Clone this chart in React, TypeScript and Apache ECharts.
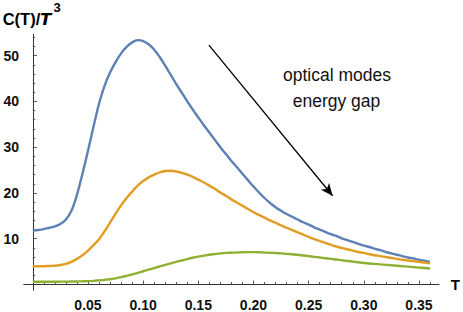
import React, { useEffect, useRef } from "react";
import * as echarts from "echarts";

// Temperature samples (x values), step 0.005
const temperatures = [
  0, 0.005, 0.01, 0.015, 0.02, 0.025, 0.03, 0.035, 0.04, 0.045,
  0.05, 0.055, 0.06, 0.065, 0.07, 0.075, 0.08, 0.085, 0.09, 0.095,
  0.1, 0.105, 0.11, 0.115, 0.12, 0.125, 0.13, 0.135, 0.14, 0.145,
  0.15, 0.155, 0.16, 0.165, 0.17, 0.175, 0.18, 0.185, 0.19, 0.195,
  0.2, 0.205, 0.21, 0.215, 0.22, 0.225, 0.23, 0.235, 0.24, 0.245,
  0.25, 0.255, 0.26, 0.265, 0.27, 0.275, 0.28, 0.285, 0.29, 0.295,
  0.3, 0.305, 0.31, 0.315, 0.32, 0.325, 0.33, 0.335, 0.34, 0.345,
  0.35, 0.355, 0.36,
];

// C(T)/T^3 for the three energy gaps
const blueValues = [
  11.8, 11.9, 12.1, 12.4, 12.7, 13.2, 14.2, 16.1, 19.6, 24.2,
  29.2, 34.5, 39.5, 43.4, 46.3, 48.6, 50.5, 51.9, 52.9, 53.4,
  53.2, 52.5, 51.3, 49.7, 47.8, 45.8, 43.8, 41.9, 40.0, 38.2,
  36.5, 34.8, 33.2, 31.6, 30.0, 28.5, 27.0, 25.6, 24.2, 22.8,
  21.4, 20.1, 18.9, 17.8, 16.9, 16.1, 15.4, 14.8, 14.2, 13.6,
  13.1, 12.5, 12.0, 11.5, 11.0, 10.6, 10.1, 9.7, 9.3, 8.9,
  8.5, 8.2, 7.8, 7.5, 7.1, 6.8, 6.5, 6.2, 5.9, 5.7,
  5.4, 5.2, 4.95,
];
const orangeValues = [
  4.0, 4.0, 4.0, 4.05, 4.1, 4.25, 4.5, 4.95, 5.6, 6.4,
  7.4, 8.6, 9.9, 11.6, 13.5, 15.5, 17.3, 18.9, 20.3, 21.6,
  22.6, 23.4, 24.0, 24.5, 24.8, 24.85, 24.7, 24.4, 24.0, 23.5,
  22.9, 22.3, 21.6, 20.9, 20.1, 19.4, 18.6, 17.9, 17.2, 16.5,
  15.8, 15.2, 14.6, 14.0, 13.5, 12.9, 12.4, 11.9, 11.4, 10.9,
  10.4, 9.9, 9.5, 9.1, 8.7, 8.3, 8.0, 7.7, 7.4, 7.1,
  6.9, 6.6, 6.4, 6.2, 6.0, 5.8, 5.6, 5.4, 5.25, 5.1,
  4.95, 4.8, 4.65,
];
const greenValues = [
  0.6, 0.6, 0.6, 0.6, 0.6, 0.62, 0.63, 0.65, 0.67, 0.7,
  0.74, 0.8, 0.9, 1.0, 1.15, 1.35, 1.6, 1.9, 2.2, 2.55,
  2.9, 3.25, 3.6, 3.95, 4.3, 4.6, 4.95, 5.25, 5.55, 5.85,
  6.1, 6.3, 6.5, 6.65, 6.8, 6.9, 6.95, 7.0, 7.05, 7.07,
  7.07, 7.05, 7.0, 6.95, 6.88, 6.8, 6.7, 6.6, 6.5, 6.35,
  6.2, 6.05, 5.9, 5.75, 5.6, 5.45, 5.3, 5.15, 5.0, 4.85,
  4.7, 4.6, 4.5, 4.4, 4.3, 4.2, 4.1, 4.0, 3.9, 3.8,
  3.7, 3.6, 3.5,
];

// Axis ticks / labels
const xMajorTicks = [0.05, 0.1, 0.15, 0.2, 0.25, 0.3, 0.35];
const xMinorTicks = [
  0.01, 0.02, 0.03, 0.04, 0.06, 0.07, 0.08, 0.09, 0.11, 0.12, 0.13, 0.14,
  0.16, 0.17, 0.18, 0.19, 0.21, 0.22, 0.23, 0.24, 0.26, 0.27, 0.28, 0.29,
  0.31, 0.32, 0.33, 0.34, 0.36,
];
const yMajorTicks = [10, 20, 30, 40, 50];
const yMinorTicks = [
  2, 4, 6, 8, 12, 14, 16, 18, 22, 24, 26, 28, 32, 34, 36, 38, 42, 44, 46, 48,
  52, 54,
];

// Annotation arrow (data coordinates) and texts
const arrowStart = [0.1596, 52.3];
const arrowEnd = [0.2717, 19.4];
const annotationLines = ["optical modes", "energy gap"];

const FONT = "'Liberation Sans', Arial, Helvetica, sans-serif";

export default function App() {
  const ref = useRef<HTMLDivElement>(null);

  useEffect(() => {
    if (!ref.current) return;
    const chart = echarts.init(ref.current, undefined, { renderer: "svg" });

    const mk = (vals: number[]) => temperatures.map((t, i) => [t, vals[i]]);
    const xMin = -0.008;
    const xMax = 0.368;
    const yMin = -1.2;
    const yMax = 54.6;

    const axisLineStyle = { color: "#333", width: 1 };
    const tickStyle = { color: "#555", width: 1 };

    const lineSeries = (name: string, vals: number[], color: string, extra: any = {}) => ({
      name,
      type: "line",
      data: mk(vals),
      xAxisIndex: 0,
      yAxisIndex: 0,
      showSymbol: false,
      smooth: 0.3,
      lineStyle: { color, width: 2.4 },
      itemStyle: { color },
      silent: true,
      ...extra,
    });

    chart.setOption({
      animation: false,
      grid: { left: 24, top: 34.6, width: 416, height: 256.7, containLabel: false },
      xAxis: [
        {
          type: "value",
          min: xMin,
          max: xMax,
          position: "bottom",
          axisLine: { show: true, onZero: true, onZeroAxisIndex: 0, lineStyle: axisLineStyle },
          axisTick: { show: true, inside: true, length: 4, customValues: xMajorTicks, lineStyle: tickStyle },
          axisLabel: {
            show: true,
            customValues: xMajorTicks,
            formatter: (v: number) => v.toFixed(2),
            fontSize: 14,
            fontWeight: "bold",
            fontFamily: FONT,
            color: "#111",
            margin: 8,
          },
          splitLine: { show: false },
          name: "T",
          nameLocation: "end",
          nameGap: 12,
          nameTextStyle: { fontSize: 15, fontWeight: "bold", fontFamily: FONT, color: "#000" },
        },
        {
          type: "value",
          min: xMin,
          max: xMax,
          position: "bottom",
          axisLine: { show: true, onZero: true, onZeroAxisIndex: 0, lineStyle: axisLineStyle },
          axisTick: { show: true, inside: true, length: 2.5, customValues: xMinorTicks, lineStyle: tickStyle },
          axisLabel: { show: false },
          splitLine: { show: false },
        },
      ],
      yAxis: [
        {
          type: "value",
          min: yMin,
          max: yMax,
          position: "left",
          axisLine: { show: true, onZero: true, onZeroAxisIndex: 0, lineStyle: axisLineStyle },
          axisTick: { show: true, inside: true, length: 4, customValues: yMajorTicks, lineStyle: tickStyle },
          axisLabel: {
            show: true,
            customValues: yMajorTicks,
            fontSize: 14,
            fontWeight: "bold",
            fontFamily: FONT,
            color: "#111",
            margin: 5,
          },
          splitLine: { show: false },
        },
        {
          type: "value",
          min: yMin,
          max: yMax,
          position: "left",
          axisLine: { show: true, onZero: true, onZeroAxisIndex: 0, lineStyle: axisLineStyle },
          axisTick: { show: true, inside: true, length: 2.5, customValues: yMinorTicks, lineStyle: tickStyle },
          axisLabel: { show: false },
          splitLine: { show: false },
        },
      ],
      series: [
        lineSeries("gap1", blueValues, "#5E81B5", {
          markLine: {
            silent: true,
            animation: false,
            symbol: ["none", "arrow"],
            symbolSize: [0, 12],
            label: { show: false },
            emphasis: { disabled: true },
            lineStyle: { color: "#000", width: 1.3, type: "solid" },
            data: [
              [
                { coord: arrowStart, symbol: "none" },
                { coord: arrowEnd, symbol: "arrow", symbolSize: [8, 12] },
              ],
            ],
          },
        }),
        lineSeries("gap2", orangeValues, "#E19C24"),
        lineSeries("gap3", greenValues, "#8FB032"),
      ],
      graphic: [
        {
          type: "text",
          left: 2.7,
          top: 10.5,
          style: { text: "C(T)/", fontSize: 16.5, fontWeight: "bold", fontFamily: FONT, fill: "#000" },
        },
        {
          type: "text",
          left: 40,
          top: 10.5,
          style: {
            text: "T",
            font: "italic bold 16.5px 'DejaVu Sans', sans-serif",
            fill: "#000",
          },
        },
        {
          type: "text",
          left: 53.5,
          top: 1,
          style: { text: "3", fontSize: 13, fontWeight: "bold", fontFamily: FONT, fill: "#000" },
        },
        {
          type: "text",
          x: 337,
          y: 75,
          style: {
            text: annotationLines[0],
            fontSize: 17.5,
            fontFamily: FONT,
            fill: "#111",
            align: "center",
            verticalAlign: "middle",
          },
        },
        {
          type: "text",
          x: 336.5,
          y: 101,
          style: {
            text: annotationLines[1],
            fontSize: 17.5,
            fontFamily: FONT,
            fill: "#111",
            align: "center",
            verticalAlign: "middle",
          },
        },
      ],
    });

    return () => chart.dispose();
  }, []);

  return (
    <div
      ref={ref}
      style={{ position: "absolute", left: 0, top: 0, width: 463, height: 312 }}
    />
  );
}
